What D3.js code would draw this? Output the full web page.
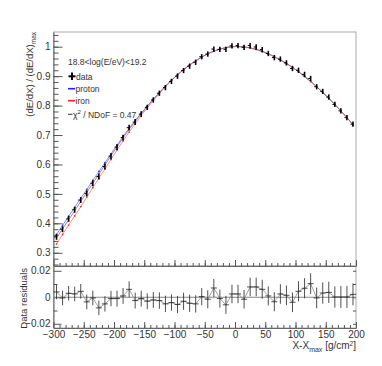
<!DOCTYPE html>
<html>
<head>
<meta charset="utf-8">
<title>profile</title>
<script src="https://cdn.jsdelivr.net/npm/d3@7"></script>
<style>
body{margin:0;background:#fff;}
text{font-family:"Liberation Sans Narrow","Liberation Sans",Arial,sans-serif;fill:#333;}
</style>
</head>
<body>
<script>
// bin centres, X - Xmax [g/cm2]
var xBins = [-295,-285,-275,-265,-255,-245,-235,-225,-215,-205,-195,-185,-175,-165,-155,-145,-135,-125,-115,-105,
  -95,-85,-75,-65,-55,-45,-35,-25,-15,-5,5,15,25,35,45,55,65,75,85,95,105,115,125,135,145,155,165,175,185,195];
var dataY = [0.354,0.380,0.415,0.446,0.479,0.502,0.536,0.559,0.593,0.628,
  0.659,0.691,0.725,0.744,0.771,0.794,0.819,0.842,0.861,0.882,
  0.900,0.919,0.934,0.947,0.966,0.975,0.992,0.991,0.991,1.003,
  1.004,0.998,1.004,0.999,0.990,0.977,0.963,0.958,0.945,0.926,
  0.920,0.906,0.892,0.864,0.848,0.829,0.804,0.782,0.759,0.737];
var dataErr = [0.010,0.010,0.010,0.010,0.010,0.010,0.010,0.010,0.010,0.010,
  0.010,0.010,0.010,0.010,0.010,0.009,0.009,0.009,0.009,0.009,
  0.009,0.009,0.009,0.009,0.009,0.009,0.009,0.009,0.009,0.009,
  0.009,0.009,0.009,0.009,0.009,0.009,0.009,0.009,0.009,0.009,
  0.009,0.009,0.009,0.009,0.009,0.009,0.009,0.009,0.009,0.009];
var fitY = [0.350,0.381,0.412,0.443,0.474,0.505,0.536,0.567,0.598,0.629,
  0.660,0.690,0.719,0.746,0.772,0.797,0.821,0.844,0.866,0.886,
  0.905,0.922,0.938,0.952,0.965,0.976,0.985,0.992,0.997,1.000,
  1.001,0.999,0.996,0.991,0.984,0.976,0.966,0.955,0.943,0.930,
  0.915,0.899,0.882,0.864,0.845,0.825,0.804,0.782,0.759,0.735];
var protonY = [0.362,0.393,0.424,0.454,0.485,0.515,0.546,0.576,0.606,0.636,
  0.666,0.695,0.723,0.749,0.774,0.798,0.822,0.844,0.866,0.886,
  0.905,0.922,0.938,0.952,0.965,0.976,0.985,0.992,0.997,1.000,
  1.001,0.999,0.996,0.991,0.984,0.976,0.966,0.955,0.943,0.930,
  0.915,0.899,0.882,0.864,0.845,0.825,0.804,0.782,0.759,0.735];
var ironY = [0.330,0.362,0.394,0.425,0.457,0.489,0.521,0.553,0.585,0.617,
  0.649,0.680,0.710,0.738,0.766,0.792,0.817,0.841,0.864,0.885,
  0.905,0.922,0.938,0.952,0.965,0.976,0.985,0.992,0.997,1.000,
  1.001,0.999,0.996,0.991,0.984,0.976,0.966,0.955,0.943,0.930,
  0.915,0.899,0.882,0.864,0.845,0.825,0.804,0.782,0.759,0.735];
var resid = [0.004,-0.0005,0.003,0.0025,0.0045,-0.0035,-0.0005,-0.008,-0.005,-0.001,
  -0.001,0.001,0.006,-0.0025,-0.001,-0.003,-0.002,-0.0025,-0.005,-0.004,
  -0.0055,-0.003,-0.0045,-0.005,0.0005,-0.0015,0.007,-0.001,-0.0057,0.0025,
  0.0025,-0.0015,0.0078,0.0078,0.006,0.001,-0.0034,0.0025,0.0015,-0.0038,
  0.0045,0.0068,0.0103,-0.0005,0.0032,0.0037,0.0002,0.0002,0.0002,0.0022];
var residErr = [0.0055,0.0055,0.0055,0.0055,0.0055,0.0055,0.0055,0.0055,0.0058,0.0058,
  0.006,0.006,0.006,0.006,0.006,0.006,0.006,0.0062,0.0062,0.0062,
  0.0065,0.0065,0.0065,0.0065,0.0065,0.0068,0.0068,0.0068,0.0068,0.007,
  0.007,0.007,0.007,0.007,0.0072,0.0072,0.0072,0.0074,0.0074,0.0074,
  0.0076,0.0076,0.0078,0.0078,0.008,0.008,0.008,0.0082,0.0082,0.0083];
var xTicks = [-300,-250,-200,-150,-100,-50,0,50,100,150,200];
var yTicks = [0.3,0.4,0.5,0.6,0.7,0.8,0.9,1];
var rTicks = [-0.02,0,0.02];

var width = 382, height = 366;
var padL = 53.5, padR = 356, padT = 32, midY = 266, padB = 328;
var svg = d3.select('body').append('svg').attr('width', width).attr('height', height);

var x = d3.scaleLinear().domain([-300, 200]).range([padL, padR]);
var y = d3.scaleLinear().domain([0.255, 1.05]).range([midY, padT]);
var yr = d3.scaleLinear().domain([-0.0232, 0.0236]).range([padB, midY]);

// frames
svg.append('rect').attr('x', padL).attr('y', padT).attr('width', padR-padL).attr('height', midY-padT)
  .attr('fill', 'none').attr('stroke', '#aaa');
svg.append('rect').attr('x', padL).attr('y', midY).attr('width', padR-padL).attr('height', padB-midY)
  .attr('fill', 'none').attr('stroke', '#aaa');

function styleAxis(g){
  g.selectAll('.domain').attr('stroke', '#666');
  g.selectAll('.tick line').attr('stroke', '#555');
  g.selectAll('text').attr('font-size', 10).attr('fill', '#333')
    .attr('font-family', '"Liberation Sans Narrow","Liberation Sans",Arial,sans-serif');
}

// main y axis
svg.append('g').attr('transform', 'translate('+padL+',0)')
  .call(d3.axisLeft(y).tickValues(yTicks).tickSizeInner(-9).tickSizeOuter(0).tickPadding(3).tickFormat(d3.format('~g')))
  .call(styleAxis);
svg.append('g').attr('transform', 'translate('+padL+',0)')
  .call(d3.axisLeft(y).tickValues(d3.range(0.26, 1.05, 0.02)).tickSize(-5).tickFormat(''))
  .call(styleAxis).select('.domain').remove();

// main x axis (no labels)
svg.append('g').attr('transform', 'translate(0,'+midY+')')
  .call(d3.axisBottom(x).tickValues(xTicks).tickSizeInner(-6).tickSizeOuter(0).tickFormat(''))
  .call(styleAxis);
svg.append('g').attr('transform', 'translate(0,'+midY+')')
  .call(d3.axisBottom(x).tickValues(d3.range(-290, 200, 10)).tickSize(-3).tickFormat(''))
  .call(styleAxis).select('.domain').remove();

// residual axes
svg.append('g').attr('transform', 'translate(0,'+padB+')')
  .call(d3.axisBottom(x).tickValues(xTicks).tickSizeInner(-6).tickSizeOuter(0).tickPadding(3))
  .call(styleAxis);
svg.append('g').attr('transform', 'translate(0,'+padB+')')
  .call(d3.axisBottom(x).tickValues(d3.range(-290, 200, 10)).tickSize(-3).tickFormat(''))
  .call(styleAxis).select('.domain').remove();
svg.append('g').attr('transform', 'translate('+padL+',0)')
  .call(d3.axisLeft(yr).tickValues(rTicks).tickSizeInner(-8).tickSizeOuter(0).tickPadding(3).tickFormat(d3.format('~g')))
  .call(styleAxis);
svg.append('g').attr('transform', 'translate('+padL+',0)')
  .call(d3.axisLeft(yr).tickValues([-0.01, 0.01]).tickSize(-4).tickFormat(''))
  .call(styleAxis).select('.domain').remove();
svg.append('g').attr('transform', 'translate('+padR+',0)')
  .call(d3.axisRight(yr).tickValues([-0.02, -0.01, 0, 0.01, 0.02]).tickSize(-3).tickFormat(''))
  .call(styleAxis).select('.domain').remove();

// model curves
var lineOf = function(arr){
  return d3.line().x(function(d, i){ return x(xBins[i]); }).y(function(d){ return y(d); })(arr);
};
svg.append('path').attr('d', lineOf(protonY)).attr('fill', 'none').attr('stroke', '#6f6fff').attr('stroke-width', 0.8);
svg.append('path').attr('d', lineOf(ironY)).attr('fill', 'none').attr('stroke', '#ff7070').attr('stroke-width', 0.8);
svg.append('path').attr('d', lineOf(fitY)).attr('fill', 'none').attr('stroke', '#777').attr('stroke-width', 0.8);
svg.append('g').selectAll('circle').data(protonY).enter().append('circle')
  .attr('cx', function(d, i){ return x(xBins[i]); }).attr('cy', function(d){ return y(d); })
  .attr('r', 0.9).attr('fill', '#3030ff');
svg.append('g').selectAll('circle').data(ironY).enter().append('circle')
  .attr('cx', function(d, i){ return x(xBins[i]); }).attr('cy', function(d){ return y(d); })
  .attr('r', 0.9).attr('fill', '#ff3030');

// data points
var pts = svg.append('g');
pts.selectAll('line.ev').data(dataY).enter().append('line').attr('class', 'ev')
  .attr('x1', function(d, i){ return x(xBins[i]); }).attr('x2', function(d, i){ return x(xBins[i]); })
  .attr('y1', function(d, i){ return y(d - dataErr[i]); }).attr('y2', function(d, i){ return y(d + dataErr[i]); })
  .attr('stroke', '#000').attr('stroke-width', 1.6);
pts.selectAll('line.eh').data(dataY).enter().append('line').attr('class', 'eh')
  .attr('x1', function(d, i){ return x(xBins[i] - 4); }).attr('x2', function(d, i){ return x(xBins[i]); })
  .attr('y1', function(d){ return y(d); }).attr('y2', function(d){ return y(d); })
  .attr('stroke', '#000').attr('stroke-width', 1);

// residuals
svg.append('line').attr('x1', x(-300)).attr('x2', x(200)).attr('y1', yr(0)).attr('y2', yr(0))
  .attr('stroke', '#888').attr('stroke-width', 1);
svg.append('path')
  .attr('d', d3.line().x(function(d, i){ return x(xBins[i]); }).y(function(d){ return yr(d); })(resid))
  .attr('fill', 'none').attr('stroke', '#999').attr('stroke-width', 0.9);
var rp = svg.append('g');
rp.selectAll('line.rv').data(resid).enter().append('line').attr('class', 'rv')
  .attr('x1', function(d, i){ return x(xBins[i]); }).attr('x2', function(d, i){ return x(xBins[i]); })
  .attr('y1', function(d, i){ return yr(d - residErr[i]); }).attr('y2', function(d, i){ return yr(d + residErr[i]); })
  .attr('stroke', '#222').attr('stroke-width', 0.8);
rp.selectAll('line.rh').data(resid).enter().append('line').attr('class', 'rh')
  .attr('x1', function(d, i){ return x(xBins[i] - 5); }).attr('x2', function(d, i){ return x(xBins[i] + 5); })
  .attr('y1', function(d){ return yr(d); }).attr('y2', function(d){ return yr(d); })
  .attr('stroke', '#222').attr('stroke-width', 0.8);

// axis titles (rotated ones use the regular width face)
var yt = svg.append('text').attr('transform', 'translate(33,'+padT+') rotate(-90)')
  .attr('text-anchor', 'end').attr('font-size', 9.5)
  .style('font-family', '"Liberation Sans",Arial,sans-serif');
yt.append('tspan').text('(dE/dX) / (dE/dX)');
yt.append('tspan').attr('font-size', 6.5).attr('dy', 2.5).text('max');

svg.append('text').attr('transform', 'translate(27,'+(midY+2)+') rotate(-90)')
  .attr('text-anchor', 'end').attr('font-size', 9.5)
  .style('font-family', '"Liberation Sans",Arial,sans-serif').text('Data residuals');

var xt = svg.append('text').attr('x', padR).attr('y', 349).attr('text-anchor', 'end').attr('font-size', 10);
xt.append('tspan').text('X-X');
xt.append('tspan').attr('font-size', 7).attr('dy', 2.5).text('max');
xt.append('tspan').attr('dy', -2.5).text(' [g/cm');
xt.append('tspan').attr('font-size', 6.5).attr('dy', -3.5).text('2');
xt.append('tspan').attr('dy', 3.5).text(']');

// legend
var lg = svg.append('g').attr('font-size', 8.5);
lg.append('text').attr('x', 68).attr('y', 65).text('18.8<log(E/eV)<19.2');
lg.append('line').attr('x1', 72).attr('x2', 72).attr('y1', 72.5).attr('y2', 80).attr('stroke', '#000').attr('stroke-width', 2);
lg.append('line').attr('x1', 68.5).attr('x2', 75.5).attr('y1', 76.3).attr('y2', 76.3).attr('stroke', '#000').attr('stroke-width', 2);
lg.append('text').attr('x', 76).attr('y', 79.5).text('data');
lg.append('line').attr('x1', 68).attr('x2', 75).attr('y1', 88.7).attr('y2', 88.7).attr('stroke', '#2020ff').attr('stroke-width', 1.6);
lg.append('text').attr('x', 75.5).attr('y', 92).text('proton');
lg.append('line').attr('x1', 68).attr('x2', 75).attr('y1', 100.7).attr('y2', 100.7).attr('stroke', '#ff2020').attr('stroke-width', 1.6);
lg.append('text').attr('x', 75.5).attr('y', 104).text('iron');
lg.append('line').attr('x1', 68).attr('x2', 72.5).attr('y1', 114.3).attr('y2', 114.3).attr('stroke', '#333').attr('stroke-width', 1);
var chi = lg.append('text').attr('x', 73).attr('y', 117.5);
chi.append('tspan').text('\u03c7');
chi.append('tspan').attr('font-size', 6).attr('dy', -3.5).text('2');
chi.append('tspan').attr('dy', 3.5).text(' / NDoF = 0.47');
</script>
</body>
</html>
